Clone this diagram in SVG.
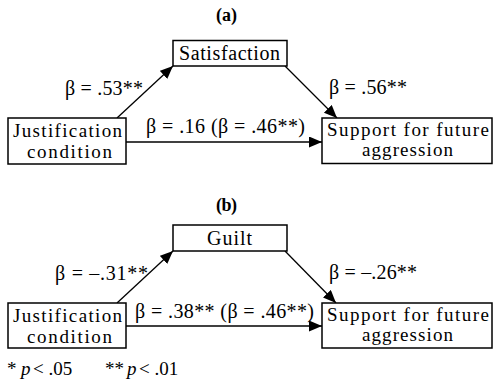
<svg xmlns="http://www.w3.org/2000/svg" width="493" height="386" viewBox="0 0 493 386">
<style>
text{font-family:"Liberation Serif","Times New Roman",Tinos,"DejaVu Serif",serif;font-size:20px;fill:#000}
.n{font-size:19px}
.t{font-weight:bold;font-size:18px}
.f{font-size:19px}
.box{fill:#fff;stroke:#000;stroke-width:1.5}
.c{fill:none;stroke:#000;stroke-width:1.3}
</style>
<defs>
<marker id="ah" markerUnits="userSpaceOnUse" markerWidth="14" markerHeight="12" refX="13" refY="5.5" orient="auto">
<path d="M0,0 L13,5.5 L0,11 z" fill="#000"/>
</marker>
</defs>
<rect width="493" height="386" fill="#fff"/>
<text class="t" x="216" y="21" textLength="21">(a)</text>
<text class="t" x="216" y="211" textLength="21">(b)</text>
<g id="connectors">
<line class="c" x1="117" y1="118" x2="173" y2="66" marker-end="url(#ah)"/>
<line class="c" x1="285" y1="66" x2="337" y2="118" marker-end="url(#ah)"/>
<line class="c" x1="126" y1="142" x2="322" y2="142" marker-end="url(#ah)"/>
<line class="c" x1="117" y1="303" x2="173" y2="251" marker-end="url(#ah)"/>
<line class="c" x1="285" y1="251" x2="336" y2="303" marker-end="url(#ah)"/>
<line class="c" x1="126" y1="326" x2="322" y2="326" marker-end="url(#ah)"/>
</g>
<g id="labels">
<text x="65" y="95" textLength="78">β = .53**</text>
<text x="329" y="94" textLength="78">β = .56**</text>
<text x="146" y="133" textLength="159">β = .16 (β = .46**)</text>
<text x="55" y="280" textLength="93">β = –.31**</text>
<text x="329" y="279" textLength="88">β = –.26**</text>
<text x="135" y="318" textLength="179">β = .38** (β = .46**)</text>
</g>
<g id="satisfaction">
<rect class="box" x="173" y="40.5" width="114" height="25.5"/>
<text x="179" y="60" textLength="101">Satisfaction</text>
</g>
<g id="justification-a">
<rect class="box" x="8" y="118" width="118" height="46"/>
<text class="n" x="13" y="137" textLength="109">Justification</text>
<text class="n" x="27" y="158" textLength="85">condition</text>
</g>
<g id="support-a">
<rect class="box" x="322" y="118" width="170" height="45.5"/>
<text class="n" x="327" y="136" textLength="162">Support for future</text>
<text class="n" x="362" y="156" textLength="91">aggression</text>
</g>
<g id="guilt">
<rect class="box" x="173" y="225" width="114" height="26"/>
<text x="207" y="245" textLength="45">Guilt</text>
</g>
<g id="justification-b">
<rect class="box" x="8" y="303" width="118" height="45"/>
<text class="n" x="13" y="322" textLength="109">Justification</text>
<text class="n" x="27" y="343" textLength="85">condition</text>
</g>
<g id="support-b">
<rect class="box" x="322" y="303" width="170" height="45"/>
<text class="n" x="327" y="321" textLength="162">Support for future</text>
<text class="n" x="362" y="341" textLength="91">aggression</text>
</g>
<text class="f" y="375"><tspan x="7">*</tspan><tspan x="21" font-style="italic">p</tspan><tspan x="33">&lt; .05</tspan><tspan x="105">**</tspan><tspan x="127" font-style="italic">p</tspan><tspan x="139">&lt; .01</tspan></text>
</svg>
